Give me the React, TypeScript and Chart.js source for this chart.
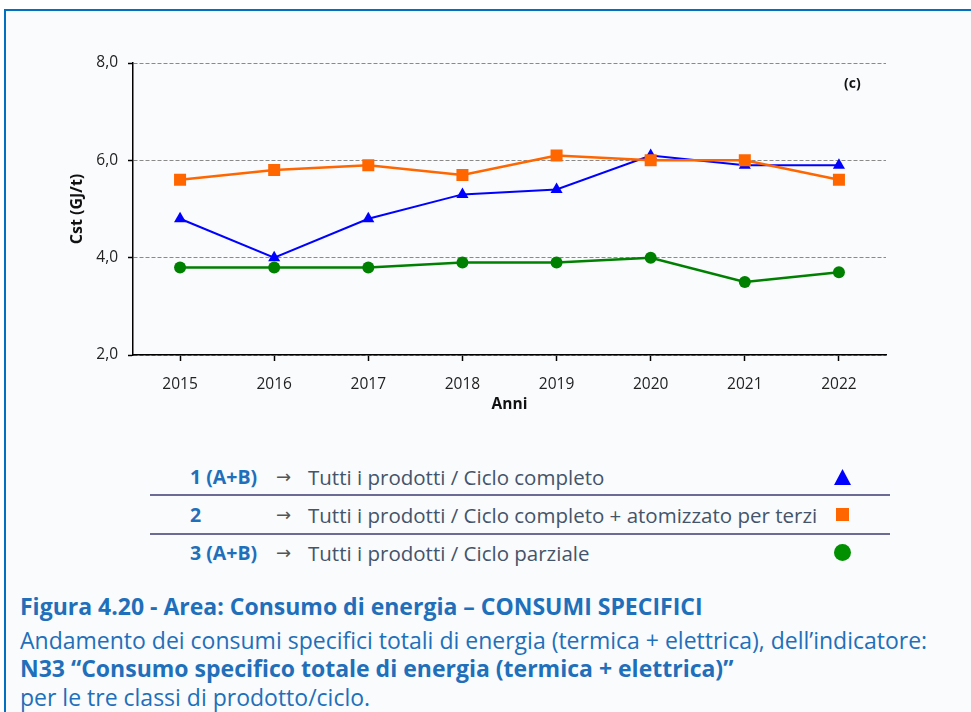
import React, { useEffect, useRef } from "react";
import { Chart, registerables } from "chart.js";

Chart.register(...registerables);

const years = ["2015", "2016", "2017", "2018", "2019", "2020", "2021", "2022"];
const cicloCompleto = [4.8, 4.0, 4.8, 5.3, 5.4, 6.1, 5.9, 5.9];
const cicloCompletoTerzi = [5.6, 5.8, 5.9, 5.7, 6.1, 6.0, 6.0, 5.6];
const cicloParziale = [3.8, 3.8, 3.8, 3.9, 3.9, 4.0, 3.5, 3.7];
const yMin = 2;
const yMax = 8;
const yStep = 2;

const FONT = "'Open Sans', 'Noto Sans', sans-serif";
const BLUE_TXT = "#1f6fba";

export default function App() {
  const ref = useRef<HTMLCanvasElement | null>(null);

  useEffect(() => {
    if (!ref.current) return;
    const chart = new Chart(ref.current, {
      type: "line",
      data: {
        labels: years,
        datasets: [
          {
            label: "1 (A+B)",
            data: cicloCompleto,
            borderColor: "#0000ff",
            backgroundColor: "#0000ff",
            borderWidth: 2,
            pointStyle: "triangle",
            pointRadius: 7,
            pointBorderWidth: 0,
            order: 1,
          },
          {
            label: "2",
            data: cicloCompletoTerzi,
            borderColor: "#ff6600",
            backgroundColor: "#ff6600",
            borderWidth: 2.5,
            pointStyle: "rect",
            pointRadius: 8.5,
            pointBorderWidth: 0,
            order: 0,
          },
          {
            label: "3 (A+B)",
            data: cicloParziale,
            borderColor: "#008000",
            backgroundColor: "#008000",
            borderWidth: 2.5,
            pointStyle: "circle",
            pointRadius: 6,
            pointBorderWidth: 0,
            order: 2,
          },
        ],
      },
      options: {
        responsive: false,
        animation: false,
        layout: { padding: { top: 63, right: 85, left: 0, bottom: 0 } },
        plugins: { legend: { display: false }, tooltip: { enabled: false } },
        elements: { line: { tension: 0 } },
        scales: {
          x: {
            type: "category",
            offset: true,
            afterFit: (s: any) => {
              s.height = 65;
            },
            grid: {
              drawOnChartArea: false,
              drawTicks: true,
              tickLength: 6,
              tickColor: "#000",
              tickWidth: 1.5,
              tickBorderDash: [],
            },
            border: { display: true, color: "#000", width: 1.5 },
            ticks: {
              color: "#222",
              padding: 14,
              font: { family: FONT, size: 15.5 },
            },
            title: {
              display: true,
              text: "Anni",
              color: "#111",
              font: { family: FONT, size: 15.5, weight: "bold" },
              padding: { top: 0, bottom: 6 },
            },
          },
          y: {
            min: yMin,
            max: yMax,
            afterFit: (s: any) => {
              s.width = 133;
            },
            ticks: {
              stepSize: yStep,
              color: "#222",
              padding: 10,
              font: { family: FONT, size: 15.5 },
              callback: (v: any) => Number(v).toFixed(1).replace(".", ","),
            },
            grid: {
              color: "#8a8a8a",
              lineWidth: 1,
              tickLength: 5,
              tickColor: "#000",
              tickWidth: 1.5,
              tickBorderDash: [],
            },
            border: { display: true, color: "#000", width: 1.5, dash: [4, 2] },
            title: {
              display: true,
              text: "Cst (GJ/t)",
              color: "#111",
              font: { family: FONT, size: 16, weight: "bold" },
              padding: { top: 68, bottom: 0 },
            },
          },
        },
      },
    });
    return () => chart.destroy();
  }, []);

  const rowLabel: React.CSSProperties = {
    position: "absolute",
    color: BLUE_TXT,
    fontWeight: 700,
    fontSize: 19.5,
    fontFamily: FONT,
    lineHeight: "28px",
    whiteSpace: "nowrap",
  };
  const arrow: React.CSSProperties = {
    position: "absolute",
    color: "#555",
    fontSize: 18,
    fontFamily: "'DejaVu Sans', sans-serif",
    lineHeight: "28px",
  };
  const desc: React.CSSProperties = {
    position: "absolute",
    color: "#44546a",
    fontSize: 20.5,
    fontFamily: FONT,
    lineHeight: "28px",
    whiteSpace: "nowrap",
  };
  const cap: React.CSSProperties = {
    position: "absolute",
    left: 20,
    color: BLUE_TXT,
    fontFamily: FONT,
    fontSize: 23,
    lineHeight: "30px",
    whiteSpace: "nowrap",
  };

  return (
    <div
      style={{
        position: "absolute",
        left: 0,
        top: 0,
        width: 971,
        height: 712,
        overflow: "hidden",
        background: "#ffffff",
      }}
    >
      <div
        style={{
          position: "absolute",
          left: 4,
          top: 9,
          width: 990,
          height: 760,
          borderLeft: "2.5px solid #0070c0",
          borderTop: "2.5px solid #0070c0",
          background: "#f9fbfd",
        }}
      />
      <canvas
        ref={ref}
        width={971}
        height={420}
        style={{ position: "absolute", left: 0, top: 0, width: 971, height: 420 }}
      />
      <div
        style={{
          position: "absolute",
          left: 844,
          top: 73,
          fontFamily: FONT,
          fontWeight: 700,
          fontSize: 14,
          lineHeight: "20px",
          color: "#111",
        }}
      >
        (c)
      </div>

      {/* legend table */}
      <div style={{ ...rowLabel, left: 190, top: 463 }}>1 (A+B)</div>
      <div style={{ ...arrow, left: 276, top: 463 }}>→</div>
      <div style={{ ...desc, left: 308, top: 463 }}>Tutti i prodotti / Ciclo completo</div>
      <svg style={{ position: "absolute", left: 833, top: 468 }} width={19} height={18}>
        <polygon points="9.5,1 18,17 1,17" fill="#0000ff" />
      </svg>
      <div style={{ position: "absolute", left: 150, top: 494, width: 740, height: 2, background: "#6b6b96" }} />

      <div style={{ ...rowLabel, left: 190, top: 501 }}>2</div>
      <div style={{ ...arrow, left: 276, top: 501 }}>→</div>
      <div style={{ ...desc, left: 308, top: 501 }}>
        Tutti i prodotti / Ciclo completo + atomizzato per terzi
      </div>
      <div style={{ position: "absolute", left: 836, top: 508, width: 13, height: 13, background: "#ff6600" }} />
      <div style={{ position: "absolute", left: 150, top: 533, width: 740, height: 2, background: "#6b6b96" }} />

      <div style={{ ...rowLabel, left: 190, top: 539 }}>3 (A+B)</div>
      <div style={{ ...arrow, left: 276, top: 539 }}>→</div>
      <div style={{ ...desc, left: 308, top: 539 }}>Tutti i prodotti / Ciclo parziale</div>
      <div
        style={{
          position: "absolute",
          left: 834,
          top: 544,
          width: 17,
          height: 17,
          borderRadius: "50%",
          background: "#009000",
        }}
      />

      {/* caption */}
      <div style={{ ...cap, top: 591, fontWeight: 700 }}>
        Figura 4.20 - Area: Consumo di energia – CONSUMI SPECIFICI
      </div>
      <div style={{ ...cap, top: 625 }}>
        Andamento dei consumi specifici totali di energia (termica + elettrica), dell’indicatore:
      </div>
      <div style={{ ...cap, top: 653, fontWeight: 700 }}>
        N33 “Consumo specifico totale di energia (termica + elettrica)”
      </div>
      <div style={{ ...cap, top: 682 }}>per le tre classi di prodotto/ciclo.</div>
    </div>
  );
}
